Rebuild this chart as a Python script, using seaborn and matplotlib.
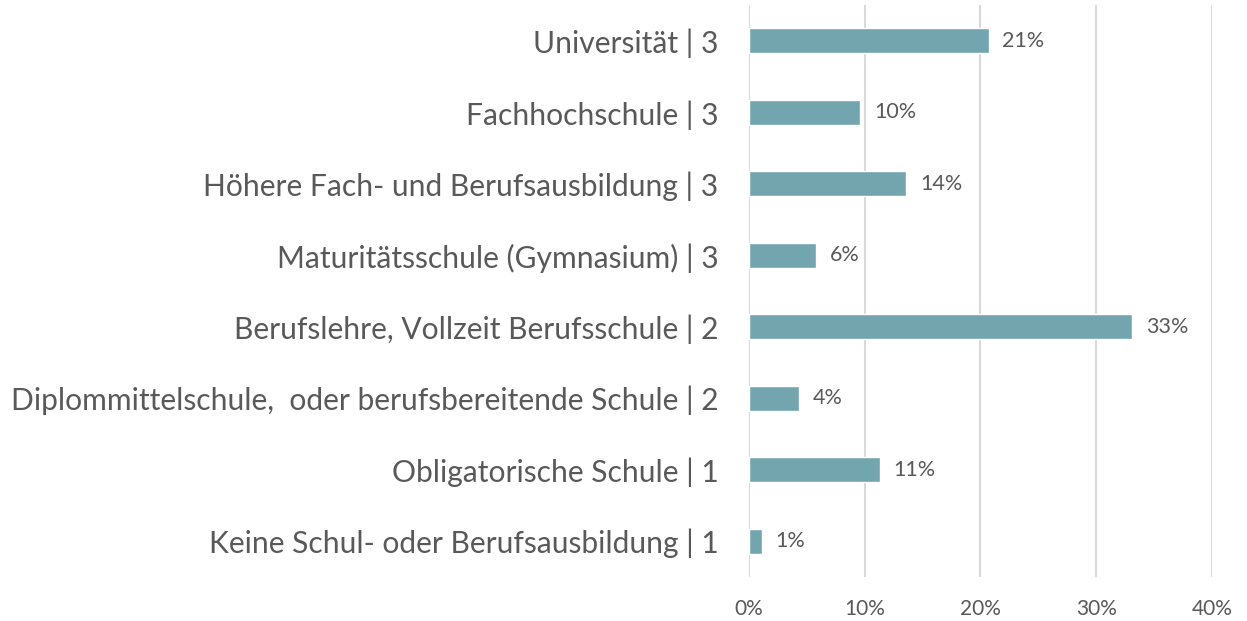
import matplotlib
matplotlib.use("Agg")
import matplotlib.pyplot as plt
import seaborn as sns
import pandas as pd
from matplotlib.ticker import FuncFormatter

# ── Daten ─────────────────────────────────────────────
categories = [
    "Universität | 3",
    "Fachhochschule | 3",
    "Höhere Fach- und Berufsausbildung | 3",
    "Maturitätsschule (Gymnasium) | 3",
    "Berufslehre, Vollzeit Berufsschule | 2",
    "Diplommittelschule,  oder berufsbereitende Schule | 2",
    "Obligatorische Schule | 1",
    "Keine Schul- oder Berufsausbildung | 1",
]
values = [20.7, 9.6, 13.6, 5.8, 33.1, 4.3, 11.3, 1.1]
value_labels = ["21%", "10%", "14%", "6%", "33%", "4%", "11%", "1%"]
xticks = [0, 10, 20, 30, 40]

BAR_COLOR = "#72A5AE"
TEXT_COLOR = "#595959"
GRID_COLOR = "#D9D9D9"

sns.set_style("white")
plt.rcParams["font.family"] = ["Lato", "DejaVu Sans"]

df = pd.DataFrame({"Ausbildung": categories, "Anteil": values})

fig = plt.figure(figsize=(12.47, 6.21), dpi=100)
ax = fig.add_axes([0.6006, 0.0709, 0.3713, 0.921])

sns.barplot(data=df, x="Anteil", y="Ausbildung", orient="h",
            color=BAR_COLOR, width=0.35, saturation=1, ax=ax, zorder=3)

ax.bar_label(ax.containers[0], labels=value_labels, padding=10,
             fontsize=15.5, color=TEXT_COLOR)

ax.set_xlim(0, 40)
ax.set_ylim(7.5, -0.5)
ax.set_xticks(xticks)
ax.xaxis.set_major_formatter(FuncFormatter(lambda v, _: f"{v:.0f}%"))
ax.xaxis.grid(True, color=GRID_COLOR, linewidth=1.5, zorder=0)
ax.set_axisbelow(True)
for s in ax.spines.values():
    s.set_visible(False)

ax.tick_params(axis="x", length=0, pad=16, labelsize=15, labelcolor=TEXT_COLOR)
ax.tick_params(axis="y", length=0, pad=22, labelsize=21.6, labelcolor=TEXT_COLOR)
ax.set_xlabel("")
ax.set_ylabel("")

fig.savefig("out.png", dpi=100)
